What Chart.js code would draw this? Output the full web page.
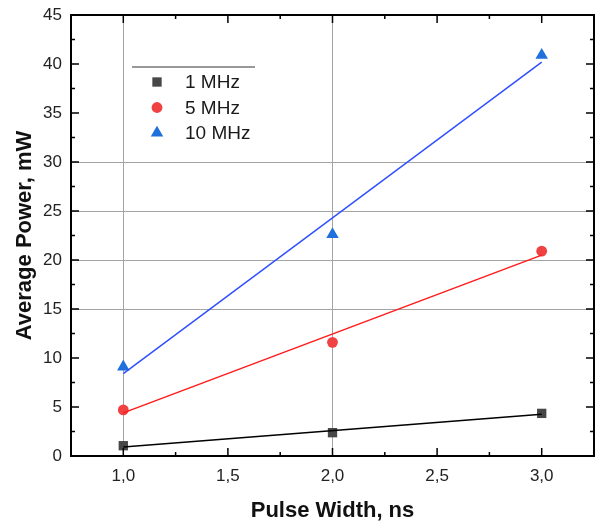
<!DOCTYPE html>
<html lang="en">
<head>
    <meta charset="UTF-8">
    <title>Average Power vs Pulse Width</title>
    <script src="https://cdn.jsdelivr.net/npm/chart.js"></script>
    <style>
        html, body { margin: 0; padding: 0; background: #fff; }
        #box { width: 605px; height: 526px; position: relative; }
    </style>
</head>
<body>
    <div id="box">
        <canvas id="grafico"></canvas>
    </div>

<script>
    // dados
    const larguras = [1, 2, 3];                 // Pulse Width, ns
    const series = ['1 MHz', '5 MHz', '10 MHz'];
    const pot1MHz = [1.05, 2.38, 4.35];
    const pot5MHz = [4.7, 11.6, 20.9];
    const pot10MHz = [9.1, 22.6, 40.9];

    const ajusteX = [1, 3];
    const ajuste1MHz = [0.92, 4.25];
    const ajuste5MHz = [4.4, 20.5];
    const ajuste10MHz = [8.4, 40.2];

    const ticksX = [1, 1.5, 2, 2.5, 3];
    const ticksY = [0, 5, 10, 15, 20, 25, 30, 35, 40, 45];
    const gradeX = [1, 2];
    const gradeY = [15, 20, 25, 30];

    const cores = {
        marcador: ['#474747', '#f04242', '#1f70dc'],
        reta: ['#000000', '#ff1a1a', '#3050ff'],
        forma: ['rect', 'circle', 'triangle'],
        raio: [6.6, 5.4, 7.2]
    };

    const fonte = "'Liberation Sans', Arial, sans-serif";

    function pontos(xs, ys) {
        return xs.map((x, i) => ({ x: x, y: ys[i] }));
    }

    const valores = [pot1MHz, pot5MHz, pot10MHz];
    const ajustes = [ajuste1MHz, ajuste5MHz, ajuste10MHz];

    let datasets = [];
    // retas primeiro, marcadores por cima
    for (let i = 0; i < series.length; i++) {
        datasets.push({
            label: series[i] + ' fit',
            data: pontos(ajusteX, ajustes[i]),
            showLine: true,
            borderColor: cores.reta[i],
            borderWidth: 1.5,
            pointRadius: 0,
            fill: false
        });
    }
    for (let i = 0; i < series.length; i++) {
        datasets.push({
            label: series[i],
            data: pontos(larguras, valores[i]),
            showLine: false,
            pointStyle: cores.forma[i],
            pointRadius: cores.raio[i],
            pointBackgroundColor: cores.marcador[i],
            pointBorderColor: cores.marcador[i],
            pointBorderWidth: 0
        });
    }

    // moldura, ticks internos e legenda
    const extras = {
        id: 'extras',
        afterDraw(chart) {
            const ctx = chart.ctx;
            const a = chart.chartArea;
            const sx = chart.scales.x;
            const sy = chart.scales.y;
            ctx.save();
            ctx.strokeStyle = '#000';

            // ticks (maiores e menores) nos quatro lados, para dentro
            ctx.lineWidth = 1.5;
            const marca = (px, comp, vertical) => {
                ctx.beginPath();
                if (vertical) {
                    ctx.moveTo(px, a.bottom); ctx.lineTo(px, a.bottom - comp);
                    ctx.moveTo(px, a.top); ctx.lineTo(px, a.top + comp);
                } else {
                    ctx.moveTo(a.left, px); ctx.lineTo(a.left + comp, px);
                    ctx.moveTo(a.right, px); ctx.lineTo(a.right - comp, px);
                }
                ctx.stroke();
            };
            ticksX.forEach((v, i) => {
                marca(sx.getPixelForValue(v), 8, true);
                if (i < ticksX.length - 1) {
                    marca(sx.getPixelForValue((v + ticksX[i + 1]) / 2), 4, true);
                }
            });
            ticksY.forEach((v, i) => {
                marca(sy.getPixelForValue(v), 8, false);
                if (i < ticksY.length - 1) {
                    marca(sy.getPixelForValue((v + ticksY[i + 1]) / 2), 4, false);
                }
            });

            ctx.lineWidth = 2;
            ctx.strokeRect(a.left, a.top, a.right - a.left, a.bottom - a.top);

            // legenda
            const lx = 132, ly = 67;
            ctx.lineWidth = 1;
            ctx.strokeStyle = '#333';
            ctx.beginPath();
            ctx.moveTo(lx, ly);
            ctx.lineTo(lx + 123, ly);
            ctx.stroke();

            ctx.font = '19px ' + fonte;
            ctx.textBaseline = 'middle';
            series.forEach((nome, i) => {
                const y = ly + 15 + i * 25.5;
                ctx.fillStyle = cores.marcador[i];
                ctx.strokeStyle = cores.marcador[i];
                Chart.helpers.drawPoint(ctx, {
                    pointStyle: cores.forma[i],
                    radius: cores.raio[i],
                    rotation: 0,
                    borderWidth: 0
                }, lx + 25, y);
                ctx.fillStyle = '#1a1a1a';
                ctx.fillText(nome, lx + 53, y + 1);
            });
            ctx.restore();
        }
    };

    const config = {
        type: 'scatter',
        data: { datasets: datasets },
        options: {
            responsive: true,
            maintainAspectRatio: false,
            animation: false,
            layout: { padding: { top: 15, right: 11, left: 0, bottom: 0 } },
            plugins: {
                legend: { display: false },
                tooltip: { enabled: false }
            },
            scales: {
                x: {
                    type: 'linear',
                    min: 0.75,
                    max: 3.25,
                    afterBuildTicks: (s) => { s.ticks = ticksX.map(v => ({ value: v })); },
                    afterFit: (s) => { s.height = 70; s.paddingLeft = 0; s.paddingRight = 0; },
                    border: { display: false },
                    grid: {
                        drawTicks: false,
                        lineWidth: 1,
                        color: (c) => (c.tick && gradeX.includes(c.tick.value)) ? '#a4a4a4' : 'rgba(0,0,0,0)'
                    },
                    ticks: {
                        padding: 10,
                        color: '#222',
                        font: { family: fonte, size: 17 },
                        callback: (v) => Number(v).toFixed(1).replace('.', ',')
                    },
                    title: {
                        display: true,
                        text: 'Pulse Width, ns',
                        color: '#111',
                        font: { family: fonte, size: 22, weight: 'bold' },
                        padding: { top: 10, bottom: 2 }
                    }
                },
                y: {
                    type: 'linear',
                    min: 0,
                    max: 45,
                    afterBuildTicks: (s) => { s.ticks = ticksY.map(v => ({ value: v })); },
                    afterFit: (s) => { s.width = 71; s.paddingTop = 0; s.paddingBottom = 0; },
                    border: { display: false },
                    grid: {
                        drawTicks: false,
                        lineWidth: 1,
                        color: (c) => (c.tick && gradeY.includes(c.tick.value)) ? '#a4a4a4' : 'rgba(0,0,0,0)'
                    },
                    ticks: {
                        padding: 9,
                        color: '#222',
                        font: { family: fonte, size: 17 }
                    },
                    title: {
                        display: true,
                        text: 'Average Power, mW',
                        color: '#111',
                        font: { family: fonte, size: 22, weight: 'bold' },
                        padding: { top: 12, bottom: 0 }
                    }
                }
            }
        },
        plugins: [extras]
    };

    new Chart(document.getElementById('grafico'), config);
</script>
</body>
</html>
